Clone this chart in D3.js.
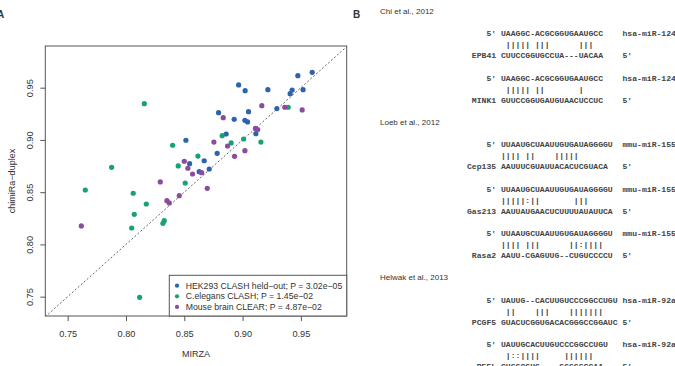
<!DOCTYPE html>
<html>
<head>
<meta charset="utf-8">
<script src="https://cdn.jsdelivr.net/npm/d3@7"></script>
<style>
  body { margin: 0; background: #fff; }
  svg { display: block; }
  .sans { font-family: "Liberation Sans", Arial, sans-serif; fill: #333; }
  .mono { font-family: "Liberation Mono", "Courier New", monospace; fill: #444; font-weight: bold; white-space: pre; }
</style>
</head>
<body>
<svg id="fig" width="675" height="366"></svg>
<script>
// panel A: MIRZA vs chimiRa-duplex scores
var hekMirza   = [0.8514, 0.8546, 0.8628, 0.8714, 0.8671, 0.8782, 0.8859, 0.9114, 0.8794, 0.8928, 0.9020,
                  0.9043, 0.9051, 0.8966, 0.9022, 0.9217, 0.9294, 0.9408, 0.9425, 0.9519, 0.9474, 0.9597];
var hekChimira = [0.8997, 0.8773, 0.8696, 0.8722, 0.8801, 0.8872, 0.9057, 0.9060, 0.9261, 0.9198, 0.9188,
                  0.9172, 0.9270, 0.9526, 0.9471, 0.9481, 0.9300, 0.9443, 0.9478, 0.9481, 0.9615, 0.9647];
var celMirza   = [0.8157, 0.8400, 0.8617, 0.8448, 0.7877, 0.9391, 0.9157, 0.8825, 0.8902, 0.9009,
                  0.8508, 0.7651, 0.8062, 0.8174, 0.8071, 0.8328, 0.8317, 0.8049, 0.8117];
var celChimira = [0.9347, 0.8949, 0.8846, 0.8751, 0.8738, 0.9313, 0.8980, 0.9041, 0.8971, 0.9009,
                  0.8588, 0.8521, 0.8490, 0.8387, 0.8288, 0.8227, 0.8202, 0.8157, 0.7494];
var mouseMirza   = [0.8500, 0.8531, 0.8571, 0.8649, 0.9362, 0.9511, 0.9165, 0.8834, 0.9110, 0.9130,
                    0.8871, 0.8754, 0.9020, 0.8931, 0.8294, 0.8457, 0.8351, 0.8371, 0.7617, 0.8697];
var mouseChimira = [0.8796, 0.8729, 0.8674, 0.8687, 0.9313, 0.9287, 0.9328, 0.9213, 0.9110, 0.9100,
                    0.8942, 0.8980, 0.8897, 0.8843, 0.8598, 0.8467, 0.8419, 0.8397, 0.8177, 0.8537];

var seriesNames  = ["HEK293 CLASH held\u2212out; P = 3.02e\u221205",
                    "C.elegans CLASH; P = 1.45e\u221202",
                    "Mouse brain CLEAR; P = 4.87e\u221202"];
var seriesColors = ["#2d62ad", "#16a273", "#8c4b9d"];
var tickValues   = [0.75, 0.80, 0.85, 0.90, 0.95];

// panel B: duplexes
var studies      = ["Chi et al., 2012", "Loeb et al., 2012", "Helwak et al., 2013"];
var duplexStudy  = [0, 0, 1, 1, 1, 2, 2];
var mirnaNames   = ["hsa-miR-124", "hsa-miR-124", "mmu-miR-155", "mmu-miR-155", "mmu-miR-155", "hsa-miR-92a", "hsa-miR-92a"];
var mirnaSeqs    = ["UAAGGC-ACGCGGUGAAUGCC", "UAAGGC-ACGCGGUGAAUGCC",
                    "UUAAUGCUAAUUGUGAUAGGGGU", "UUAAUGCUAAUUGUGAUAGGGGU", "UUAAUGCUAAUUGUGAUAGGGGU",
                    "UAUUG--CACUUGUCCCGGCCUGU", "UAUUGCACUUGUCCCGGCCUGU"];
var pairLines    = [" ||||| |||      |||", " ||||| ||       |",
                    "|||| ||    |||||", "|||||:||       |||", "|||| |||      ||:||||",
                    " ||    |||    |||||||", " |::||||     ||||||"];
var targetNames  = ["EPB41", "MINK1", "Cep135", "Gas213", "Rasa2", "PCGF5", "PEEL"];
var targetSeqs   = ["CUUCCGGUGCCUA---UACAA", "GUUCCGGUGAUGUAACUCCUC",
                    "AAUUUCGUAUUACACUCGUACA", "AAUUAUGAACUCUUUUAUAUUCA", "AAUU-CGAGUUG--CUGUCCCCU",
                    "GUACUCGGUGACACGGGCCGGAUC", "CUGGCGUG----GGGGGCCAA"];

var svg = d3.select("#fig");

// ---- panel A ----
var frame = {left: 45.3, right: 346.7, top: 46, bottom: 316};
var x = d3.scaleLinear().domain([0.7308, 0.9893]).range([frame.left, frame.right]);
var y = d3.scaleLinear().domain([0.7315, 0.9899]).range([frame.bottom, frame.top]);

var gA = svg.append("g");

svg.append("defs").append("clipPath").attr("id", "plotclip")
  .append("rect")
  .attr("x", frame.left).attr("y", frame.top)
  .attr("width", frame.right - frame.left).attr("height", frame.bottom - frame.top);

// y = x reference
gA.append("line")
  .attr("clip-path", "url(#plotclip)")
  .attr("x1", x(0.70)).attr("y1", y(0.70))
  .attr("x2", x(1.0)).attr("y2", y(1.0))
  .attr("stroke", "#666").attr("stroke-width", 1).attr("stroke-dasharray", "2,2");

var xAxis = gA.append("g")
  .attr("transform", "translate(0," + frame.bottom + ")")
  .call(d3.axisBottom(x).tickValues(tickValues).tickFormat(d3.format(".2f")).tickSize(5));
xAxis.select(".domain").remove();
xAxis.selectAll("line").attr("stroke", "#555");
xAxis.selectAll("text")
  .attr("class", "sans").attr("font-size", "9.2px")
  .attr("y", 20.5).attr("dy", 0);

var yAxis = gA.append("g")
  .attr("transform", "translate(" + frame.left + ",0)")
  .call(d3.axisLeft(y).tickValues(tickValues).tickFormat(d3.format(".2f")).tickSize(5));
yAxis.select(".domain").remove();
yAxis.selectAll("line").attr("stroke", "#555");
yAxis.selectAll("text")
  .attr("class", "sans").attr("font-size", "9.2px")
  .attr("x", 0).attr("dy", 0)
  .attr("text-anchor", "middle")
  .attr("transform", "translate(-12,0) rotate(-90)");

gA.append("rect")
  .attr("x", frame.left).attr("y", frame.top)
  .attr("width", frame.right - frame.left).attr("height", frame.bottom - frame.top)
  .attr("fill", "none").attr("stroke", "#555").attr("stroke-width", 1);

gA.append("text").attr("class", "sans")
  .attr("x", (frame.left + frame.right) / 2).attr("y", 357.3)
  .attr("text-anchor", "middle").attr("font-size", "9px")
  .text("MIRZA");

gA.append("text").attr("class", "sans")
  .attr("transform", "translate(15," + (frame.top + frame.bottom) / 2 + ") rotate(-90)")
  .attr("text-anchor", "middle").attr("font-size", "9px")
  .text("chimiRa\u2212duplex");

gA.append("text").attr("class", "sans")
  .attr("x", -3).attr("y", 17.5)
  .attr("font-size", "10px").attr("font-weight", "bold")
  .text("A");

var series = [
  {xs: hekMirza, ys: hekChimira},
  {xs: celMirza, ys: celChimira},
  {xs: mouseMirza, ys: mouseChimira}
];

series.forEach(function (s, k) {
  gA.append("g").selectAll("circle")
    .data(d3.zip(s.xs, s.ys))
    .enter().append("circle")
    .attr("cx", function (d) { return x(d[0]); })
    .attr("cy", function (d) { return y(d[1]); })
    .attr("r", 2.6)
    .attr("fill", seriesColors[k]);
});

// legend, bottom right inside the box
var leg = gA.append("g");
leg.append("rect")
  .attr("x", 169.3).attr("y", 275.3)
  .attr("width", frame.right - 169.3).attr("height", frame.bottom - 275.3)
  .attr("fill", "#fff").attr("stroke", "#555").attr("stroke-width", 1);

var legRows = leg.selectAll("g.row").data(seriesNames).enter().append("g")
  .attr("class", "row")
  .attr("transform", function (d, i) { return "translate(0," + (285.7 + i * 10.6) + ")"; });
legRows.append("circle")
  .attr("cx", 177).attr("cy", 0).attr("r", 2.1)
  .attr("fill", function (d, i) { return seriesColors[i]; });
legRows.append("text").attr("class", "sans")
  .attr("x", 185.7).attr("y", 3.1)
  .attr("font-size", "8.7px")
  .text(function (d) { return d; });

// ---- panel B ----
var gB = svg.append("g");
gB.append("text").attr("class", "sans")
  .attr("x", 353).attr("y", 18)
  .attr("font-size", "10px").attr("font-weight", "bold")
  .text("B");

var charW = 4.86, seqX = 501, lineH = 11.1, line0 = 11, baseOff = 2.9;
var lineY = function (n) { return line0 + n * lineH + baseOff; };

var n = 0;
studies.forEach(function (study, si) {
  gB.append("text").attr("class", "sans")
    .attr("x", 380).attr("y", lineY(n))
    .attr("font-size", "8px")
    .text(study);
  n += 2;

  d3.range(duplexStudy.length).filter(function (k) { return duplexStudy[k] === si; })
    .forEach(function (k) {
      var rows = [
        {col: -3, t: "5'", n: n},
        {col: 0, t: mirnaSeqs[k], n: n},
        {col: 25, t: mirnaNames[k], n: n},
        {col: 0, t: pairLines[k], n: n + 1},
        {col: -(targetNames[k].length + 1), t: targetNames[k], n: n + 2},
        {col: 0, t: targetSeqs[k], n: n + 2},
        {col: 25, t: "5'", n: n + 2}
      ];
      gB.append("g").selectAll("text")
        .data(rows).enter().append("text")
        .attr("class", "mono")
        .attr("xml:space", "preserve")
        .attr("font-size", "8.1px")
        .attr("x", function (d) { return seqX + d.col * charW; })
        .attr("y", function (d) { return lineY(d.n); })
        .text(function (d) { return d.t; });
      n += 4;
    });
});
</script>
</body>
</html>
